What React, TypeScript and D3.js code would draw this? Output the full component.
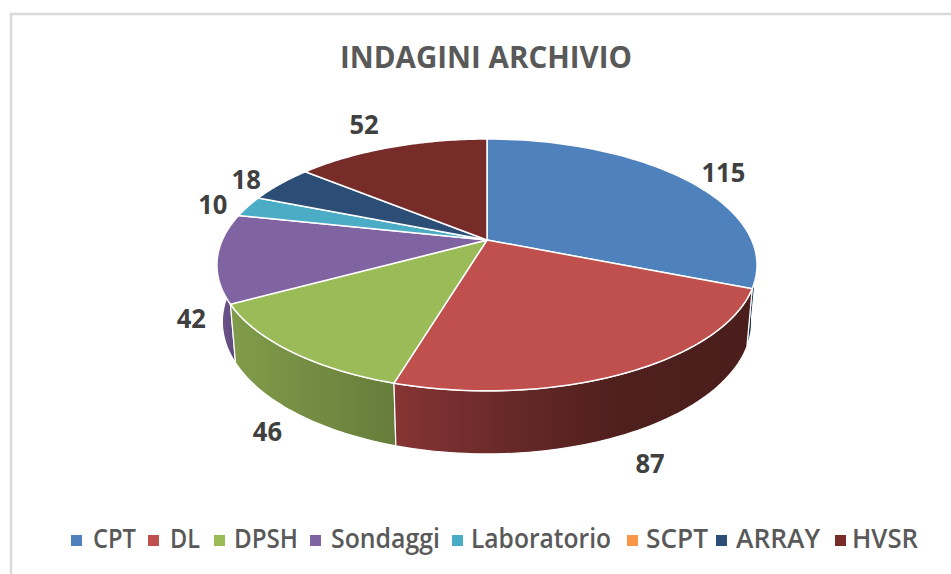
import React from "react";
import * as d3 from "d3";

const categories = ["CPT", "DL", "DPSH", "Sondaggi", "Laboratorio", "SCPT", "ARRAY", "HVSR"];
const values = [115, 87, 46, 42, 10, 0, 18, 52];
const topColors = ["#4f81bd", "#c0504d", "#9bbb59", "#8064a2", "#4bacc6", "#f79646", "#2c4d75", "#772c2a"];
const title = "INDAGINI ARCHIVIO";

// layout
const W = 951, H = 574;
const apex = { x: 487, y: 240 };
const R = 264.7, K = 0.198, C = 121;
const DEPTH = 55.5, SU = 0.98, SV = 1.05;
const labelOffsets: [number, number][] = [[39, -6], [23, 91], [-23, 80], [-26, 61], [-35, -2], [0, 0], [-34, -4], [-27, -23]];
const legendX: [number, number, number][] = [
  [71, 93, 43], [148, 170, 30], [214, 234, 64], [310, 331, 109], [452, 471, 140], [627, 646, 62], [716, 736, 84], [835, 852, 66],
];
const sideStops: Record<string, [number, string][]> = {
  CPT: [[0, "#1a3554"], [1, "#16304f"]],
  DL: [[0, "#873434"], [0.35, "#642827"], [0.65, "#4e1f1d"], [1, "#4a1e1c"]],
  DPSH: [[0, "#809c4a"], [1, "#677d3b"]],
  Sondaggi: [[0, "#6f5690"], [1, "#5d4878"]],
};

const project = (a: number) => {
  const x = Math.sin(a), z = -Math.cos(a);
  const den = 1 - K * z;
  return { u: (R * x) / den, v: (C * z) / den };
};
const top = (a: number): [number, number] => {
  const p = project(a);
  return [apex.x + p.u, apex.y + p.v];
};
const bot = (a: number): [number, number] => {
  const p = project(a);
  return [apex.x + p.u * SU, apex.y + p.v * SV + DEPTH];
};
const sampleAngles = (a0: number, a1: number) =>
  d3.range(0, 61).map((i) => a0 + ((a1 - a0) * i) / 60);

const rows = categories.map((name, i) => ({ name, value: values[i], color: topColors[i], index: i }));
const arcs = d3.pie<(typeof rows)[number]>().sort(null).value((d) => d.value).startAngle(0).endAngle(2 * Math.PI)(rows);
const line = d3.line();

const SIDE_MIN = (100 * Math.PI) / 180;
const SIDE_MAX = (283 * Math.PI) / 180;

export default function App() {
  const visible = arcs.filter((a) => a.data.value > 0);
  const sides = visible
    .map((a) => ({ a, s: Math.max(a.startAngle, SIDE_MIN), e: Math.min(a.endAngle, SIDE_MAX) }))
    .filter((d) => d.e > d.s);
  // paint from the outer edges of the visible rim towards the front
  const order = [...sides].sort(
    (p, q) => Math.abs((q.s + q.e) / 2 - Math.PI) - Math.abs((p.s + p.e) / 2 - Math.PI)
  );
  return (
    <svg width={W} height={H} style={{ position: "absolute", left: 0, top: 0, background: "#fff" }}>
      <defs>
        {sides.map(({ a, s, e }) => {
          const xs = sampleAngles(s, e).map((t) => top(t)[0]);
          const stops = sideStops[a.data.name] ?? [[0, a.data.color], [1, a.data.color]];
          return (
            <linearGradient
              key={a.data.name}
              id={`side-${a.data.index}`}
              gradientUnits="userSpaceOnUse"
              x1={d3.min(xs)}
              x2={d3.max(xs)}
              y1={0}
              y2={0}
            >
              {stops.map(([o, c]) => (
                <stop key={o} offset={o} stopColor={c} />
              ))}
            </linearGradient>
          );
        })}
      </defs>

      <path d={`M11 574V14H951`} fill="none" stroke="#d9d9d9" strokeWidth={2.5} />

      <text
        x={486}
        y={67.5}
        textAnchor="middle"
        fontFamily="'Open Sans', sans-serif"
        fontWeight={700}
        fontSize={31}
        fill="#595959"
        textLength={292}
        lengthAdjust="spacingAndGlyphs"
      >
        {title}
      </text>

      {order.map(({ a, s, e }) => {
        const ang = sampleAngles(s, e);
        const pts = [...ang.map(top), ...[...ang].reverse().map(bot)];
        return (
          <path
            key={a.data.name}
            d={(line(pts) ?? "") + "Z"}
            fill={`url(#side-${a.data.index})`}
            stroke="#fff"
            strokeWidth={1.2}
            strokeLinejoin="round"
          />
        );
      })}

      {visible.map((a) => {
        const pts: [number, number][] = [[apex.x, apex.y], ...sampleAngles(a.startAngle, a.endAngle).map(top)];
        return (
          <path
            key={a.data.name}
            d={(line(pts) ?? "") + "Z"}
            fill={a.data.color}
            stroke="#fff"
            strokeWidth={1.5}
            strokeLinejoin="round"
          />
        );
      })}

      {visible.map((a) => {
        const [x, y] = top((a.startAngle + a.endAngle) / 2);
        const [dx, dy] = labelOffsets[a.data.index];
        return (
          <text
            key={a.data.name}
            x={x + dx}
            y={y + dy}
            dy="0.36em"
            textAnchor="middle"
            fontFamily="'Open Sans', sans-serif"
            fontWeight={700}
            fontSize={26}
            fill="#404040"
            textLength={String(a.data.value).length * 14.6}
            lengthAdjust="spacingAndGlyphs"
          >
            {a.data.value}
          </text>
        );
      })}

      {rows.map((d, i) => (
        <g key={d.name}>
          <rect x={legendX[i][0]} y={535} width={11} height={11} fill={d.color} />
          <text
            x={legendX[i][1]}
            y={548}
            fontFamily="'Open Sans', sans-serif"
            fontWeight={600}
            fontSize={26.5}
            fill="#595959"
            textLength={legendX[i][2]}
            lengthAdjust="spacingAndGlyphs"
          >
            {d.name}
          </text>
        </g>
      ))}
    </svg>
  );
}
